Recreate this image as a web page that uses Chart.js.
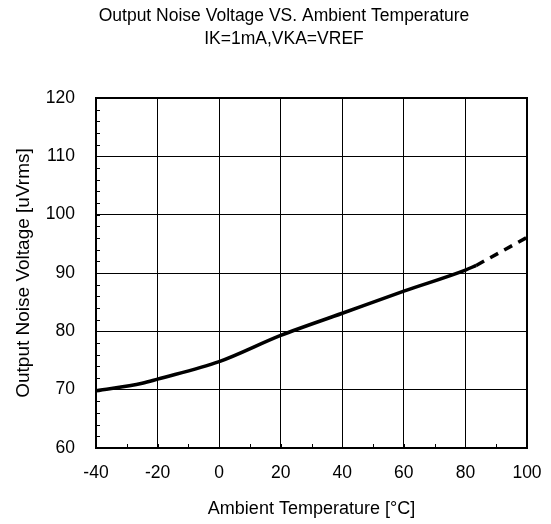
<!DOCTYPE html>
<html>
<head>
<meta charset="utf-8">
<script src="https://cdn.jsdelivr.net/npm/chart.js@4/dist/chart.umd.min.js"></script>
<style>
  html, body { margin: 0; padding: 0; background: #fff; }
  #wrap { width: 551px; height: 524px; }
</style>
</head>
<body>
<div id="wrap"><canvas id="c" width="551" height="524"></canvas></div>
<script>
// ---- data ----
const titleLines = ['Output Noise Voltage VS. Ambient Temperature', 'IK=1mA,VKA=VREF'];
const xAxisTitle = 'Ambient Temperature [°C]';
const yAxisTitle = 'Output Noise Voltage [uVrms]';
const xTicks = [-40, -20, 0, 20, 40, 60, 80, 100];
const yTicks = [60, 70, 80, 90, 100, 110, 120];
const tempMeasured = [-40, -25, -20, 0, 20, 40, 60, 80, 83.5];
const noiseMeasured = [69.8, 71.1, 71.8, 74.8, 79.3, 83.1, 86.9, 90.5, 91.3];
const tempExtrap = [83.5, 100];
const noiseExtrap = [91.3, 96.1];

const FONT = 'Liberation Sans, Arial, sans-serif';

const framePlugin = {
  id: 'frame',
  afterLayout(chart) {
    // shift the title block so that it is centred like the reference
    if (chart.titleBlock) {
      chart.titleBlock.left = 17;
      chart.titleBlock.right = 551;
    }
  },
  afterDraw(chart) {
    const {ctx, chartArea: a, scales: {x, y}} = chart;
    ctx.save();
    ctx.strokeStyle = '#000';
    // minor inward ticks
    ctx.lineWidth = 1;
    ctx.beginPath();
    for (let v = xTicks[0]; v <= xTicks[xTicks.length - 1]; v += 10) {
      const px = Math.round(x.getPixelForValue(v)) + 0.5;
      ctx.moveTo(px, a.bottom);
      ctx.lineTo(px, a.bottom - 4);
    }
    for (let v = yTicks[0]; v <= yTicks[yTicks.length - 1]; v += 2) {
      const py = Math.round(y.getPixelForValue(v)) + 0.5;
      ctx.moveTo(a.left, py);
      ctx.lineTo(a.left + 4, py);
    }
    ctx.stroke();
    ctx.lineWidth = 2;
    ctx.strokeRect(Math.round(a.left), Math.round(a.top), Math.round(a.right - a.left), Math.round(a.bottom - a.top));
    ctx.restore();
  }
};

new Chart(document.getElementById('c'), {
  type: 'line',
  data: {
    datasets: [
      {
        data: tempMeasured.map((t, i) => ({x: t, y: noiseMeasured[i]})),
        borderColor: '#000',
        borderWidth: 3.5,
        pointRadius: 0,
        cubicInterpolationMode: 'monotone',
        fill: false
      },
      {
        data: tempExtrap.map((t, i) => ({x: t, y: noiseExtrap[i]})),
        borderColor: '#000',
        borderWidth: 3.5,
        borderDash: [9, 7],
        pointRadius: 0,
        fill: false
      }
    ]
  },
  options: {
    responsive: false,
    animation: false,
    devicePixelRatio: 1,
    layout: { padding: { left: 0, right: 24, top: 0, bottom: 0 } },
    plugins: {
      legend: { display: false },
      tooltip: { enabled: false },
      title: {
        display: true,
        text: titleLines,
        color: '#000',
        font: { family: FONT, size: 17.5, weight: 'normal', lineHeight: '23px' },
        padding: { top: 5, bottom: 47 }
      }
    },
    scales: {
      x: {
        type: 'linear',
        min: xTicks[0],
        max: xTicks[xTicks.length - 1],
        afterBuildTicks(scale) { scale.ticks = xTicks.map(v => ({value: v})); },
        afterFit(scale) { scale.height = 76; scale.paddingLeft = 0; scale.paddingRight = 0; },
        grid: { color: '#000', lineWidth: 1, tickLength: 0, drawTicks: false },
        border: { display: false },
        ticks: { color: '#000', font: { family: FONT, size: 17.5 }, padding: 15, maxRotation: 0 },
        title: { display: true, text: xAxisTitle, color: '#000', font: { family: FONT, size: 18 }, padding: { top: 4, bottom: 4 } }
      },
      y: {
        type: 'linear',
        min: yTicks[0],
        max: yTicks[yTicks.length - 1],
        afterBuildTicks(scale) { scale.ticks = yTicks.map(v => ({value: v})); },
        afterFit(scale) { scale.width = 96; },
        grid: { color: '#000', lineWidth: 1, tickLength: 0, drawTicks: false },
        border: { display: false },
        ticks: { color: '#000', font: { family: FONT, size: 17.5 }, padding: 21 },
        title: { display: true, text: yAxisTitle, color: '#000', font: { family: FONT, size: 19 }, padding: { top: 12, bottom: 4 } }
      }
    }
  },
  plugins: [framePlugin]
});
</script>
</body>
</html>
